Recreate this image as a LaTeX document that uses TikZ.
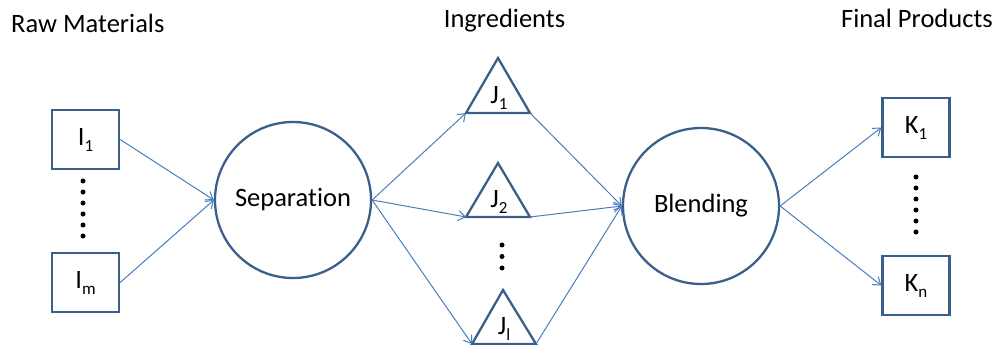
\documentclass[tikz,border=0pt]{standalone}
\usepackage{fontspec}
\setmainfont{Carlito}[Ligatures={NoCommon}]
\usetikzlibrary{arrows.meta}
\definecolor{shapeblue}{HTML}{3A5F8B}
\definecolor{arrowblue}{HTML}{4A7EBB}
\newcommand\sbs[1]{\raisebox{-6pt}{\fontsize{17}{17}\selectfont #1}}
\tikzset{
  box/.style={draw=shapeblue, line width=2.3pt, minimum width=67pt, minimum height=59pt, inner sep=0pt, font=\fontsize{26.5}{26.5}\selectfont},
  proc/.style={draw=shapeblue, line width=2.3pt, circle, minimum size=156pt, inner sep=0pt, font=\fontsize{26.5}{26.5}\selectfont},
  tri/.style={draw=shapeblue, line width=2.3pt, line join=miter},
  lbl/.style={font=\fontsize{26.5}{26.5}\selectfont, inner sep=0pt},
  title/.style={font=\fontsize{26.5}{26.5}\selectfont, inner sep=0pt},
  flow/.style={draw=arrowblue, line width=1pt, -{Straight Barb[length=7pt,width=10pt,line width=1pt]}},
  dot/.style={fill=black, circle, minimum size=5pt, inner sep=0pt}
}
\begin{document}
\begin{tikzpicture}[x=1pt,y=-1pt]
\useasboundingbox (0,0) rectangle (997,345);
% titles
\node[title, anchor=base west] (t1) at (11,33) {Raw Materials};
\node[title, anchor=base] (t2) at (504.5,28) {Ingredients};
\node[title, anchor=base east] (t3) at (993,28) {Final Products};
% raw material boxes
\node[box] (i1) at (85.5,139.5) {I\sbs{1}};
\node[box] (im) at (85.5,282.5) {I\sbs{m}};
\foreach \k in {0,...,5} \node[dot] (id\k) at (83,181+11*\k) {};
% separation and blending
\node[proc] (sep) at (293,200) {Separation};
\node[proc] (blend) at (701,206) {Blending};
% triangles
\coordinate (j1l) at (466,113); \coordinate (j1r) at (530,113); \coordinate (j1t) at (498,58);
\coordinate (j2l) at (466,217); \coordinate (j2r) at (530,217); \coordinate (j2t) at (498,163);
\coordinate (jll) at (472,344); \coordinate (jlr) at (536,344); \coordinate (jlt) at (503,290);
\draw[tri] (j1l) -- (j1t) -- (j1r) -- cycle;
\draw[tri] (j2l) -- (j2t) -- (j2r) -- cycle;
\draw[tri] (jll) -- (jlt) -- (jlr) -- cycle;
\node[lbl, anchor=base] (j1) at (499,103) {J\sbs{1}};
\node[lbl, anchor=base] (j2) at (499,207) {J\sbs{2}};
\node[lbl, anchor=base] (jl) at (504,334) {J\sbs{l}};
\foreach \k in {0,1,2} \node[dot] (jd\k) at (502,245+11.5*\k) {};
% final product boxes
\node[box] (k1) at (916,127.5) {K\sbs{1}};
\node[box] (kn) at (916,285.5) {K\sbs{n}};
\foreach \k in {0,...,5} \node[dot] (kd\k) at (916,177+11*\k) {};
% flows
\draw[flow] (i1.east) -- (sep.west);
\draw[flow] (im.east) -- (sep.west);
\draw[flow] (sep.east) -- (j1l);
\draw[flow] (sep.east) -- (j2l);
\draw[flow] (sep.east) -- (jll);
\draw[flow] (j1r) -- (blend.west);
\draw[flow] (j2r) -- (blend.west);
\draw[flow] (jlr) -- (blend.west);
\draw[flow] (blend.east) -- (k1.west);
\draw[flow] (blend.east) -- (kn.west);
\end{tikzpicture}
\end{document}
